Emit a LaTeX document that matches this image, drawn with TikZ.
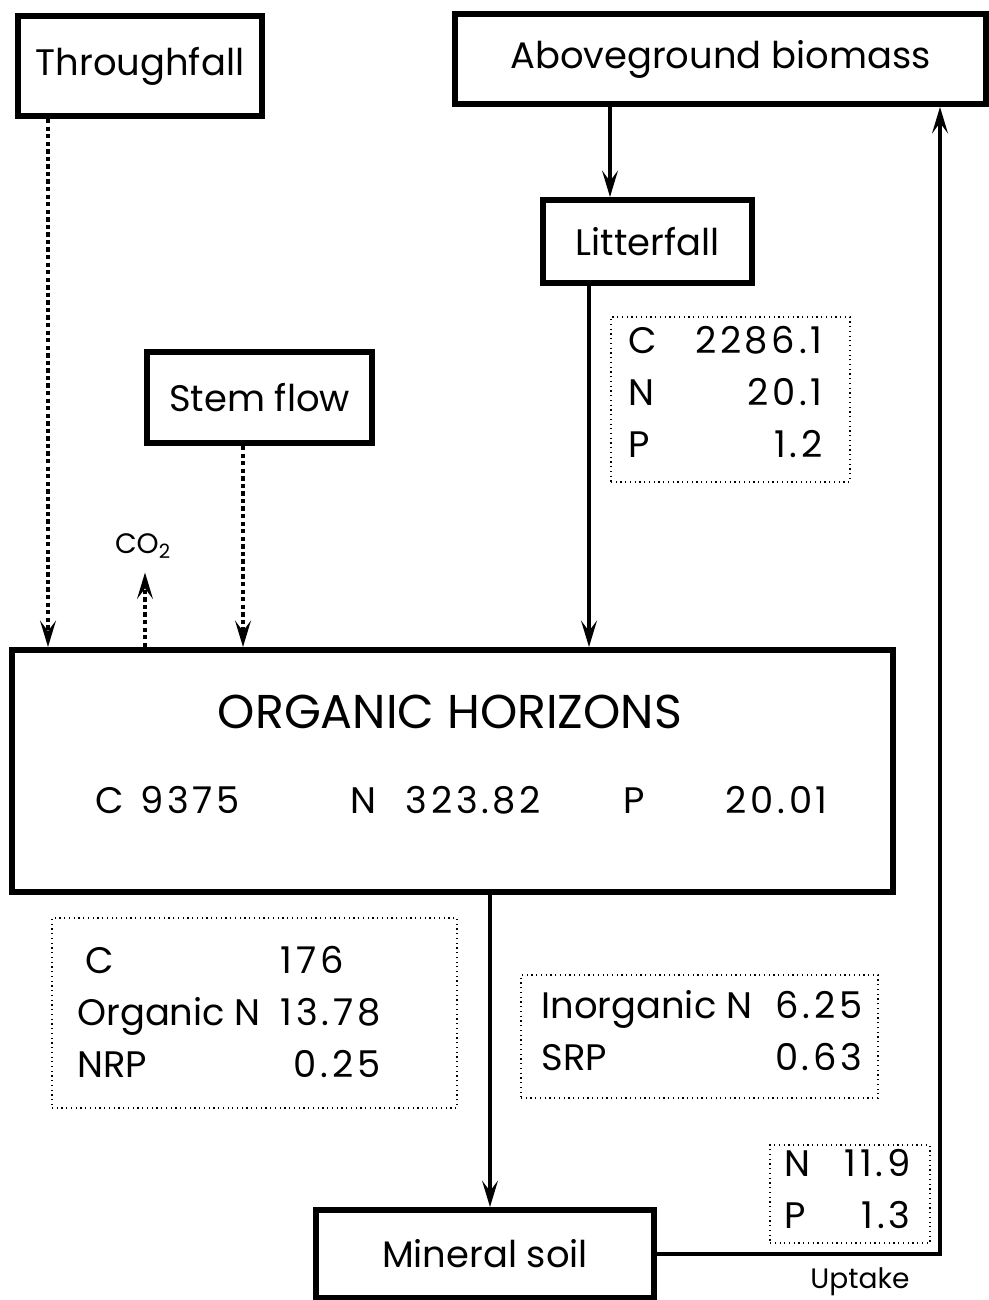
\documentclass[tikz,border=0pt]{standalone}
\usepackage{fontspec}
\setmainfont{Poppins}
\newfontfamily\numfont{Poppins}[Numbers=Monospaced, LetterSpace=10]
\newcommand{\val}[1]{{\numfont #1}}
\usetikzlibrary{arrows.meta,positioning,calc}

\begin{document}
\begin{tikzpicture}[x=0.02cm, y=-0.02cm,
    pool/.style={draw, line width=3.4pt, inner sep=0, font=\fontsize{21}{25}\selectfont},
    datbox/.style={draw, dotted, line width=0.7pt, inner sep=0},
    dattext/.style={anchor=west, inner sep=0, font=\fontsize{21}{29.5}\selectfont},
    small/.style={inner sep=0, font=\fontsize{16}{18}\selectfont},
    flow/.style={line width=2pt, -{Stealth[length=15pt,width=9pt,inset=6pt]}},
    flowdot/.style={flow, dash pattern=on 2.5pt off 1.8pt},
  ]
  \useasboundingbox (0,0) rectangle (988,1300);
  % Compartments
  \node[pool, minimum width=244*0.02cm, minimum height=100*0.02cm] (thr) at (140,66) {Throughfall};
  \node[pool, minimum width=531*0.02cm, minimum height=90*0.02cm] (abg) at (720.5,59) {Aboveground biomass};
  \node[pool, minimum width=209*0.02cm, minimum height=83*0.02cm] (lit) at (647.5,241.5) {Litterfall};
  \node[pool, minimum width=225*0.02cm, minimum height=91*0.02cm] (stem) at (259.5,397.5) {Stem flow};
  \node[pool, minimum width=881*0.02cm, minimum height=242*0.02cm] (org) at (452.5,771) {};
  \node[pool, minimum width=338*0.02cm, minimum height=88*0.02cm] (min) at (485,1254) {Mineral soil};
  % Organic horizons contents
  \node[inner sep=0, font=\fontsize{27}{30}\selectfont] (orgT) at (450,712) {ORGANIC HORIZONS};
  \node[dattext] (orgC) at (95,800) {C\hspace{0.45em}\val{9375}};
  \node[dattext] (orgN) at (350,800) {N\hspace{0.8em}\val{323.82}};
  \node[dattext] (orgP) at (623,800) {P\hspace{2.2em}\val{20.01}};
  % Flux boxes
  \node[datbox, minimum width=239*0.02cm, minimum height=165*0.02cm] (litD) at (730.5,399.5) {};
  \node[dattext] (litT) at (628,395) {\begin{tabular*}{3.88cm}{@{}l@{\extracolsep{\fill}}r@{}}
      C & \val{2286.1}\\ N & \val{20.1}\\ P & \val{1.2}\end{tabular*}};
  \node[datbox, minimum width=405*0.02cm, minimum height=190*0.02cm] (leachO) at (254.5,1013) {};
  \node[dattext] (leachOT) at (77,1015) {\begin{tabular}{@{}l@{\hspace{0.4cm}}l@{}}
      \hspace{0.16cm}C & \val{176}\\ Organic N & \val{13.78}\\ NRP & \hphantom{\val{13.78}}\llap{\val{0.25}}\end{tabular}};
  \node[datbox, minimum width=357*0.02cm, minimum height=123*0.02cm] (leachI) at (699.5,1036.5) {};
  \node[dattext] (leachIT) at (541,1034) {\begin{tabular*}{6.42cm}{@{}l@{\extracolsep{\fill}}r@{}}
      Inorganic N & \val{6.25}\\ SRP & \val{0.63}\end{tabular*}};
  \node[datbox, minimum width=160*0.02cm, minimum height=98*0.02cm] (upD) at (850,1194) {};
  \node[dattext] (upT) at (784,1192) {\begin{tabular*}{2.52cm}{@{}l@{\extracolsep{\fill}}r@{}}
      N & \val{11.9}\\ P & \val{1.3}\end{tabular*}};
  % Labels
  \node[small] (co2) at (143,546) {CO\textsubscript{2}};
  \node[small] (upL) at (860,1282) {Uptake};
  % Fluxes
  \draw[flowdot] (48,0 |- thr.south) -- (48,0 |- org.north);
  \draw[flowdot] (145,0 |- org.north) -- ($(145,0 |- co2.south)+(0,14)$);
  \draw[flowdot] (243,0 |- stem.south) -- (243,0 |- org.north);
  \draw[flow] (610,0 |- abg.south) -- (610,0 |- lit.north);
  \draw[flow] (589,0 |- lit.south) -- (589,0 |- org.north);
  \draw[flow] (490,0 |- org.south) -- (490,0 |- min.north);
  \draw[flow] (min.east) -- (940,0 |- min.east) -- (940,0 |- abg.south);
\end{tikzpicture}
\end{document}
